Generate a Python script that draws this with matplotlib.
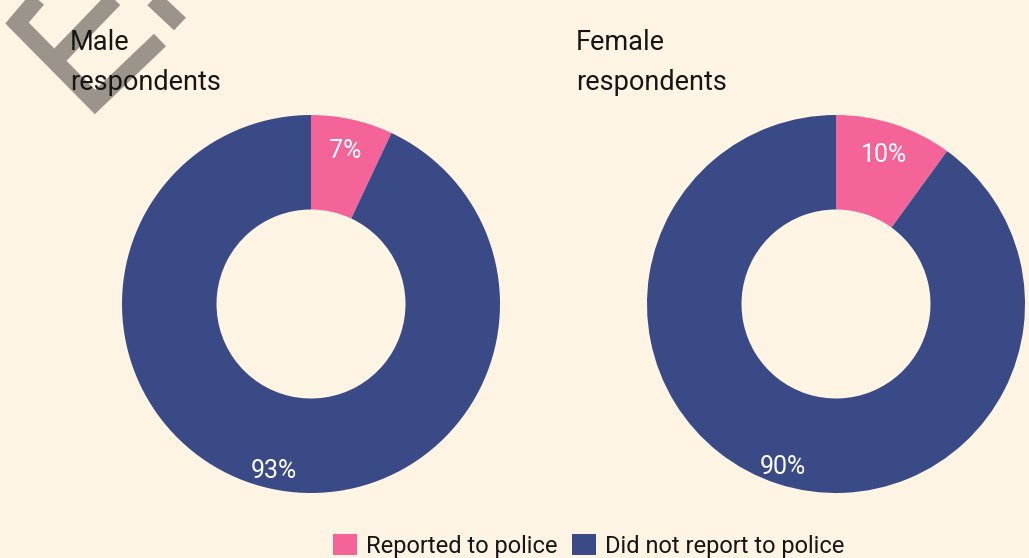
import numpy as np
import matplotlib
matplotlib.use("Agg")
import matplotlib.pyplot as plt
from matplotlib.lines import Line2D
from matplotlib.patches import Patch

# data
groups = ["Male\nrespondents", "Female\nrespondents"]
categories = ["Reported to police", "Did not report to police"]
male_pct = [7, 93]
female_pct = [10, 90]
series = [male_pct, female_pct]

colors = ["#f46499", "#3a4a86"]
bg = "#fef4e4"
W, H = 1029, 558

plt.rcParams["font.family"] = ["Roboto", "DejaVu Sans"]

fig = plt.figure(figsize=(W / 100, H / 100), dpi=100, facecolor=bg)

# watermark chevrons (pixel coords, y from top)
marks = [
    [(45, -10), (17, 23), (95, 102), (160, 40)],
    [(114, -1), (60, 55)],
    [(148, -6), (180, 24)],
]
for pts in marks:
    xs = [p[0] / W for p in pts]
    ys = [1 - p[1] / H for p in pts]
    fig.add_artist(Line2D(xs, ys, color="#9b948a", lw=12.5,
                          solid_joinstyle="miter", solid_capstyle="butt",
                          transform=fig.transFigure))

centers = [(311, 304), (836, 304)]
title_x = [70, 576]
radius_px = 189
label_r = [0.83, 0.905]

for vals, (cx, cy), name, tx in zip(series, centers, groups, title_x):
    ax = fig.add_axes([(cx - radius_px) / W, (H - cy - radius_px) / H,
                       2 * radius_px / W, 2 * radius_px / H])
    ax.set_facecolor("none")
    wedges, _ = ax.pie(vals, colors=colors, startangle=90, counterclock=False,
                       radius=1, wedgeprops=dict(width=0.5, linewidth=0))
    for i, (w, v) in enumerate(zip(wedges, vals)):
        ang = np.deg2rad((w.theta1 + w.theta2) / 2)
        ax.text(label_r[i] * np.cos(ang), label_r[i] * np.sin(ang), f"{v}%",
                ha="center", va="center", color="white", fontsize=18)
    ax.set_xlim(-1, 1)
    ax.set_ylim(-1, 1)
    ax.set_aspect("auto")
    ax.axis("off")
    fig.text(tx / W, 1 - 29 / H, name, ha="left", va="top", fontsize=19.5,
             color="#161616", linespacing=1.6)

handles = [Patch(facecolor=c, edgecolor="none") for c in colors]
fig.legend(handles, categories, loc="center", bbox_to_anchor=(589 / W, 1 - 546 / H),
           ncol=2, frameon=False, fontsize=17, handlelength=1.0, handleheight=1.0,
           handletextpad=0.4, columnspacing=0.6, labelcolor="#161616")

fig.savefig("out.png", dpi=100, facecolor=bg)
